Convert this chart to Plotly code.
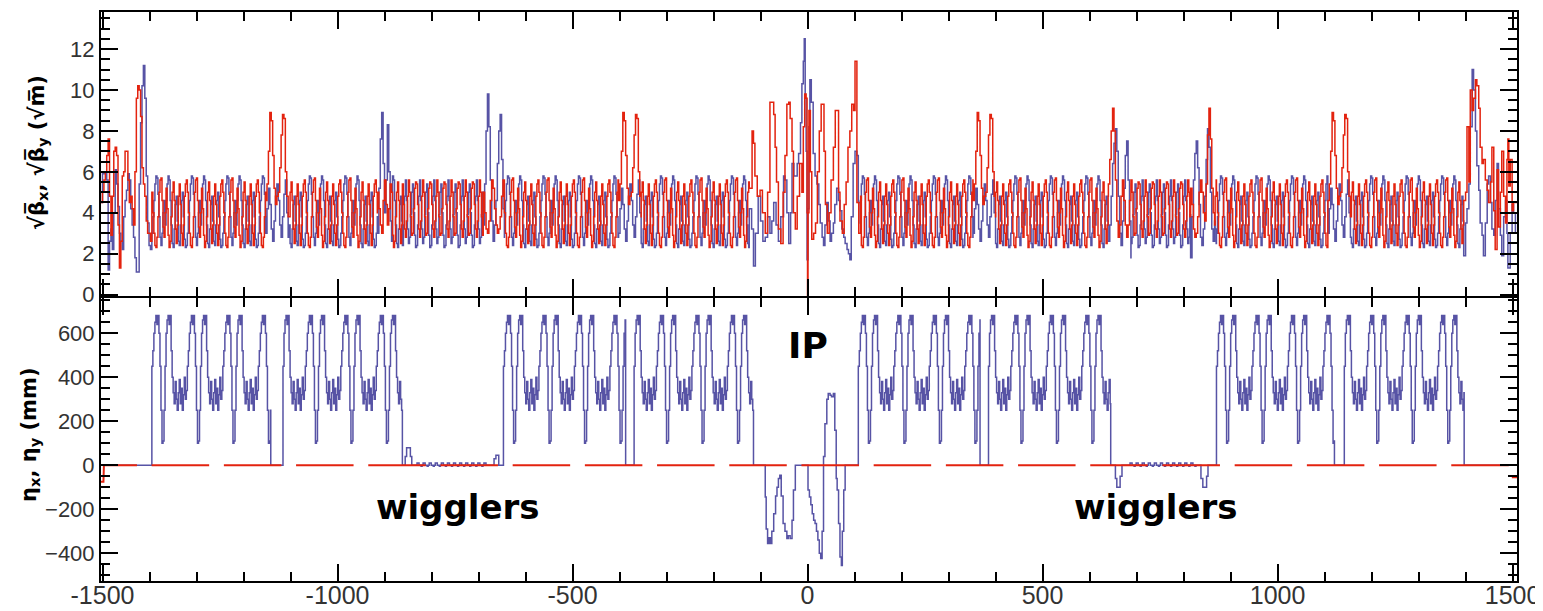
import plotly.graph_objects as go

# ---------------- values ----------------
# one arc super-period (m) and its evenly spaced samples
CELL_LEN = 75.5
CELL_ETA = [450, 520, 600, 650, 680, 640, 680, 600, 450, 250, 100, 110, 250, 450, 600,
            660, 680, 640, 680, 520, 400, 330, 280, 380, 300, 250, 330, 390, 280, 350,
            250, 320, 400, 300, 340]
CELL_BX = [3.0, 3.8, 4.6, 5.4, 5.8, 5.7, 4.9, 3.8, 2.8, 2.4, 3.0, 4.0, 4.6, 3.4, 4.6,
           5.4, 5.8, 5.6, 4.6, 3.4, 2.5, 2.3, 3.2, 4.4, 4.8, 3.6, 2.6, 2.4, 3.4, 4.6,
           5.0, 3.8, 2.7, 2.3, 2.4]
CELL_BY = [5.0, 4.0, 3.0, 2.4, 2.3, 2.8, 3.8, 5.0, 5.6, 5.7, 4.6, 3.3, 2.8, 4.0, 5.2,
           4.2, 2.9, 2.3, 2.6, 3.8, 5.0, 5.5, 4.6, 3.2, 2.5, 3.4, 4.8, 5.4, 4.4, 3.0,
           2.4, 3.4, 4.8, 5.4, 5.6]

# arc sections (m) and where in the super-period each one starts
ARC_START = [-1395, -1116, -647, -369, 108, 385, 870, 1142]
ARC_END = [-1142, -862, -387, -115, 367, 645, 1121, 1397]
ARC_PHASE = [0, 13, 0, 13, 0, 13, 0, 13]

# wiggler sections
WIG_START = [-862, 645]
WIG_END = [-647, 870]
WIG_BX = [2.4, 3.4, 4.8, 5.6, 4.6, 3.2, 2.5, 2.8, 3.9, 5.0, 5.4, 4.0, 2.9, 2.3]
WIG_BY = [5.4, 4.4, 3.2, 2.8, 3.6, 4.8, 5.6, 5.0, 3.8, 2.9, 3.0, 4.2, 5.2, 5.5]
SQ_START = [-833, 684]
SQ_END = [-682, 828]
SQUIG_ETA = [0, 10, 10, 0, 0, -5]
WIG_ETA_X = [-862, -856, -853, -848, -845, -842, -835, -680, -670, -667, -663, -660, -657,
             645, 655, 658, 662, 665, 669, 682, 830, 834, 837, 841, 845, 849, 852]
WIG_ETA = [0, 40, 80, 80, 40, 0, 0, 0, 0, 30, 45, 45, 0,
           0, -60, -100, -100, -50, 0, 0, 0, 0, -60, -100, -100, -50, 0]

# zero-dispersion gaps inside the arcs: beta shape around their centres
GAP_CENTER = [-1129, -378, 376, 1131]
GAP_REL = [-24, -21, -18, -15, -12, -9, -6, -3, 0, 3, 6, 9, 12, 15, 18, 21, 24]
GAP_BX = [3.0, 4.2, 5.2, 4.4, 3.2, 2.6, 3.6, 4.8, 5.4, 4.6, 3.4, 2.8, 3.8, 4.9, 5.6, 4.0, 2.8]
GAP_BY = [4.6, 5.4, 7.0, 8.9, 8.5, 6.8, 5.2, 4.4, 4.8, 5.0, 6.2, 7.8, 8.8, 8.6, 6.0, 4.8, 3.8]

# beta peaks next to the wigglers
SPK_A_X = [-915, -912, -909, -906, -903, -900, -897, -894, -891, -888, -885]
SPK_A_BX = [3.0, 5.2, 7.6, 8.9, 6.4, 4.0, 5.6, 8.3, 6.0, 3.6, 2.6]
SPK_A_BY = [5.0, 4.2, 3.4, 3.0, 4.6, 5.6, 4.4, 3.4, 4.2, 5.4, 5.0]
SPK_B_X = [-690, -687, -684, -681, -678, -675, -672, -669, -666, -663, -660, -657, -654, -651, -648, -645]
SPK_B_BX = [3.4, 5.4, 8.0, 9.8, 8.2, 5.6, 3.6, 2.6, 3.4, 4.6, 6.4, 8.0, 8.8, 6.6, 4.2, 2.8]
SPK_B_BY = [5.0, 4.0, 3.2, 3.0, 3.6, 4.6, 5.6, 5.2, 4.2, 3.4, 3.0, 3.2, 3.8, 4.8, 5.6, 5.0]
SPK_C_X = [640, 643, 646, 649, 652, 655, 658, 661, 664, 667, 670, 673, 676, 679, 682, 685, 688]
SPK_C_BX = [2.6, 3.4, 4.8, 6.4, 7.4, 8.1, 7.0, 4.8, 3.0, 2.4, 3.6, 5.2, 6.8, 7.5, 5.6, 3.6, 1.8]
SPK_C_BY = [5.4, 6.6, 8.0, 9.1, 8.0, 5.6, 3.6, 2.8, 3.4, 4.8, 5.6, 4.6, 3.4, 2.8, 3.4, 4.6, 5.4]
SPK_D_X = [815, 818, 821, 824, 827, 830, 833, 836, 839, 842, 845, 848, 851, 854, 857, 860, 863, 866]
SPK_D_BX = [1.8, 3.8, 5.6, 6.9, 7.5, 6.2, 4.4, 2.8, 2.4, 3.2, 4.8, 6.6, 8.1, 7.2, 5.0, 3.2, 2.6, 3.6]
SPK_D_BY = [5.2, 4.4, 3.2, 2.8, 3.0, 3.8, 5.0, 5.6, 5.0, 4.0, 3.6, 5.4, 7.8, 9.1, 7.6, 5.2, 4.0, 3.4]

# interaction region
IR_BX_X = [-124, -119, -115, -111, -105, -100, -95, -90, -85, -80, -76, -72, -67, -62, -57, -51,
           -48, -44, -40, -36, -33, -29, -26, -22, -19, -15, -12, -9, -7, -5, -3, -1, 1, 3, 5,
           8, 12, 16, 20, 24, 27, 31, 34, 37, 41, 44, 48, 51, 55, 58, 62, 66, 69, 73, 77, 80,
           84, 87, 90, 93, 97, 101, 105, 108, 112]
IR_BX = [4.2, 3.2, 1.4, 3.0, 4.8, 3.6, 2.6, 2.8, 3.8, 3.0, 3.6, 4.5, 3.4, 2.6, 3.8, 5.8,
         5.6, 4.0, 2.5, 4.0, 6.4, 5.8, 5.8, 6.4, 6.9, 8.4, 10.3, 11.4, 12.5, 9.6, 7.0, 1.7, 4.2, 8.2, 10.5,
         9.4, 6.9, 5.8, 5.4, 4.4, 3.5, 2.8, 2.4, 3.4, 4.5, 3.6, 2.6, 3.0, 3.5, 4.4, 5.2, 4.6, 4.1, 3.2, 2.8, 2.5,
         2.2, 2.0, 1.7, 3.8, 6.4, 7.0, 6.8, 4.5, 3.5]
IR_BY_X = [-124, -118, -115, -112, -107, -101, -96, -90, -85, -80, -76, -72, -69, -66, -62, -57,
           -52, -48, -44, -40, -37, -33, -30, -26, -22, -17, -12, -9, -6, -3, -1, 0, 1, 3, 6,
           9, 13, 17, 21, 25, 29, 32, 35, 38, 42, 46, 50, 55, 59, 63, 66, 69, 74, 78, 82, 86,
           90, 94, 98, 101, 105, 109, 113]
IR_BY = [5.2, 8.0, 7.4, 5.8, 4.8, 5.1, 4.0, 3.0, 5.0, 9.4, 9.4, 8.8, 7.2, 5.5, 3.2, 2.5,
         5.0, 6.8, 9.3, 9.4, 8.6, 7.0, 4.0, 3.2, 4.8, 6.4, 5.0, 8.2, 9.8, 9.6, 4.0, -0.3, 4.0, 9.0, 6.0,
         2.7, 3.0, 3.5, 6.0, 8.0, 9.3, 9.3, 7.0, 4.4, 3.0, 4.0, 5.6, 7.2, 9.0, 9.0, 5.0, 3.6, 3.0, 4.4, 5.5, 7.2,
         8.0, 9.3, 9.0, 11.4, 4.5, 3.0, 4.8]
IR_ETA_X = [-115, -90, -88, -85, -82, -79, -76, -72, -68, -65, -62, -59, -56, -52, -48, -44,
            -41, -37, -33, -30, -26, 1, 4, 7, 10, 13, 16, 19, 22, 25, 28, 31, 34, 37, 41, 44,
            48, 51, 55, 58, 61, 63, 66, 69, 72, 74, 77, 80]
IR_ETA = [0, -144, -290, -356, -330, -356, -300, -220, -140, -100, -60, -45, -140, -265, -300, -333,
          -320, -333, -250, -113, 0, -113, -144, -180, -220, -250, -265, -300, -340, -400, -424, -300, 40, 189, 300, 326,
          318, 311, 326, 159, -60, -113, -265, -417, -455, -300, -113, 0]

# ring ends (straights around the second IP at +-1500 m)
LEFT_X = [-1503, -1500, -1497, -1494, -1491, -1488, -1485, -1482, -1479, -1476, -1473, -1470,
          -1467, -1464, -1461, -1458, -1455, -1452, -1449, -1446, -1443, -1440, -1437, -1434,
          -1431, -1428, -1425, -1422, -1419, -1416, -1413, -1410, -1407, -1404, -1401, -1398]
LEFT_BX = [4.5, 5.9, 5.9, 5.9, 5.6, 1.2, 2.6, 3.2, 2.2, 4.0, 6.1, 5.4,
           4.3, 3.0, 2.6, 2.2, 3.8, 4.6, 5.1, 5.9, 5.6, 4.2, 3.4, 2.8,
           1.8, 1.1, 1.1, 5.4, 8.4, 10.2, 11.2, 9.6, 5.8, 3.5, 2.4, 2.2]
LEFT_BY = [4.5, 5.0, 5.6, 6.0, 6.8, 7.6, 4.8, 2.9, 4.8, 7.0, 7.2, 6.8,
           3.4, 1.3, 2.6, 5.8, 6.0, 7.0, 7.0, 5.6, 4.5, 4.8, 4.2, 3.4,
           6.0, 9.6, 10.2, 10.0, 8.7, 6.2, 5.4, 4.8, 3.6, 3.0, 3.0, 2.6]
RIGHT_X = [1396, 1400, 1403, 1407, 1410, 1414, 1417, 1421, 1424, 1428, 1431, 1435, 1438, 1442,
           1446, 1449, 1453, 1456, 1460, 1463, 1467, 1470, 1474, 1477, 1481, 1485, 1488, 1490,
           1492, 1495, 1499, 1502, 1506, 1510]
RIGHT_BX = [1.9, 3.5, 4.2, 5.4, 8.2, 11.0, 10.0, 8.0, 6.3, 5.1, 3.5, 2.9, 1.9, 3.5,
            5.4, 5.8, 4.5, 3.2, 2.9, 4.6, 6.4, 4.2, 2.9, 1.9, 3.8, 4.6, 3.0, 1.3,
            1.3, 3.0, 4.4, 4.0, 3.0, 3.0]
RIGHT_BY = [4.6, 5.0, 8.2, 5.5, 10.0, 9.0, 9.6, 10.5, 10.2, 9.1, 7.2, 6.4, 6.6, 5.6,
            5.1, 4.5, 5.5, 7.2, 4.1, 2.2, 6.1, 3.3, 5.0, 7.0, 4.8, 3.5, 6.6, 7.6,
            5.3, 6.6, 4.1, 4.5, 4.5, 4.5]

# vertical dispersion (zero except the very ends)
ETAY_X = [-1503.2, -1498, -1497, 1496, 1497, 1509.4]
ETAY = [-75, -75, 0, 0, -55, -55]

X_TICKS = [-1500, -1000, -500, 0, 500, 1000, 1500]

# ---------------- assemble the curves ----------------
STEP = CELL_LEN / len(CELL_ETA)


def tile(x0, x1, pattern, phase=0):
    xs, ys = [], []
    k = 0
    while x0 + k * STEP < x1 - 1e-6:
        xs.append(x0 + k * STEP)
        ys.append(pattern[(phase + k) % len(pattern)])
        k += 1
    return xs, ys


def put(xs, ys, ox, oy):
    n = min(len(ox), len(oy))
    ox, oy = list(ox[:n]), list(oy[:n])
    lo, hi = min(ox), max(ox)
    pts = [(x, y) for x, y in zip(xs, ys) if x < lo or x > hi] + list(zip(ox, oy))
    pts.sort(key=lambda p: p[0])
    return [p[0] for p in pts], [p[1] for p in pts]


bx_x, bx_y, by_x, by_y = [], [], [], []
eta_x, eta_y = [-1503.2, 1397, 1509.4], [0, 0, 0]
for s, e, ph in zip(ARC_START, ARC_END, ARC_PHASE):
    a, b = tile(s, e, CELL_BX, ph); bx_x += a; bx_y += b
    a, b = tile(s, e, CELL_BY, ph); by_x += a; by_y += b
    a, b = tile(s, e, CELL_ETA, ph); eta_x += a; eta_y += b
for i in (0, 2, 4, 6):
    eta_x.append(ARC_END[i]); eta_y.append(0)
for s, e in zip(WIG_START, WIG_END):
    a, b = tile(s, e, WIG_BX); bx_x += a; bx_y += b
    a, b = tile(s, e, WIG_BY); by_x += a; by_y += b
for s, e in zip(SQ_START, SQ_END):
    a, b = tile(s, e, SQUIG_ETA); eta_x += a; eta_y += b
eta_x += WIG_ETA_X; eta_y += WIG_ETA
eta_x += IR_ETA_X; eta_y += IR_ETA
pts = sorted(zip(eta_x, eta_y), key=lambda p: p[0])
eta_x, eta_y = [p[0] for p in pts], [p[1] for p in pts]

for c in GAP_CENTER:
    gx = [c + r for r in GAP_REL]
    bx_x, bx_y = put(bx_x, bx_y, gx, GAP_BX)
    by_x, by_y = put(by_x, by_y, gx, GAP_BY)
for sx, sb, sr in [(SPK_A_X, SPK_A_BX, SPK_A_BY), (SPK_B_X, SPK_B_BX, SPK_B_BY),
                   (SPK_C_X, SPK_C_BX, SPK_C_BY), (SPK_D_X, SPK_D_BX, SPK_D_BY),
                   (LEFT_X, LEFT_BX, LEFT_BY), (RIGHT_X, RIGHT_BX, RIGHT_BY)]:
    bx_x, bx_y = put(bx_x, bx_y, sx, sb)
    by_x, by_y = put(by_x, by_y, sx, sr)
bx_x, bx_y = put(bx_x, bx_y, IR_BX_X, IR_BX)
by_x, by_y = put(by_x, by_y, IR_BY_X, IR_BY)

# ---------------- figure ----------------
BLUE = '#5753a5'
RED = '#e3230f'
XR = [-1503.2, 1509.4]
PLOT_H = 569

fig = go.Figure()
fig.add_trace(go.Scatter(x=bx_x, y=bx_y, mode='lines', line=dict(color=BLUE, width=1.5, shape='hv'),
                         xaxis='x', yaxis='y', showlegend=False))
fig.add_trace(go.Scatter(x=by_x, y=by_y, mode='lines', line=dict(color=RED, width=1.5, shape='hv'),
                         xaxis='x', yaxis='y', showlegend=False))
fig.add_trace(go.Scatter(x=eta_x, y=eta_y, mode='lines', line=dict(color=BLUE, width=1.5, shape='hv'),
                         xaxis='x2', yaxis='y2', showlegend=False))
fig.add_trace(go.Scatter(x=ETAY_X, y=ETAY, mode='lines',
                         line=dict(color=RED, width=2, dash='52px,14.7px,5.5px,0px'),
                         xaxis='x2', yaxis='y2', showlegend=False))

tickfont = dict(family='Liberation Sans, Arial, sans-serif', size=25, color='#333')
common_x = dict(range=XR, showgrid=False, zeroline=False, showline=True, linewidth=2, linecolor='black',
                mirror='ticks', ticks='inside', ticklen=17, tickwidth=2, tickcolor='black',
                tickvals=X_TICKS, ticktext=[str(v) for v in X_TICKS], automargin=False,
                minor=dict(ticks='inside', ticklen=9, tickwidth=2, tickcolor='black', dtick=100, tick0=0))
common_y = dict(showgrid=False, zeroline=False, showline=True, linewidth=2, linecolor='black',
                mirror='ticks', ticks='inside', ticklen=17, tickwidth=2, tickcolor='black', automargin=False,
                tickfont=dict(family='Liberation Sans, Arial, sans-serif', size=22, color='#333'))

# the page places the figure 8 px from the top-left corner
fig.update_layout(
    width=1535, height=603,
    margin=dict(l=93, r=26, t=4, b=30),
    paper_bgcolor='white', plot_bgcolor='white',
    xaxis=dict(anchor='y', showticklabels=False, **common_x),
    xaxis2=dict(anchor='y2', matches='x', showticklabels=True, tickfont=tickfont,
                ticklabelstandoff=-9, **common_x),
    yaxis=dict(domain=[285 / PLOT_H, 1], range=[-0.07, 13.81], tick0=0, dtick=2,
               minor=dict(ticks='inside', ticklen=9, tickwidth=2, tickcolor='black', dtick=0.5, tick0=0),
               **common_y),
    yaxis2=dict(domain=[0, 283 / PLOT_H], range=[-526, 760], tick0=0, dtick=200,
                minor=dict(ticks='inside', ticklen=9, tickwidth=2, tickcolor='black', dtick=50, tick0=0),
                **common_y),
)

title_font = dict(family='DejaVu Sans, sans-serif', size=21, color='black')
fig.add_annotation(xref='paper', yref='paper', x=-0.0445, y=0.754, textangle=-90, showarrow=False,
                   text="<b>√β\u0305<sub>x</sub>, √β\u0305<sub>y</sub> (√m\u0305)</b>",
                   font=title_font, xanchor='center', yanchor='middle')
fig.add_annotation(xref='paper', yref='paper', x=-0.0501, y=0.2566, textangle=-90, showarrow=False,
                   text="<b>η<sub>x</sub>, η<sub>y</sub> (mm)</b>",
                   font=title_font, xanchor='center', yanchor='middle')

label_font = dict(family='DejaVu Sans, sans-serif', size=34, color='black')
fig.add_annotation(xref='x2', yref='y2', x=0, y=543, text='<b>IP</b>', showarrow=False,
                   font=dict(family='DejaVu Sans, sans-serif', size=36, color='black'))
fig.add_annotation(xref='x2', yref='y2', x=-744, y=-190, text='<b>wigglers</b>', showarrow=False, font=label_font)
fig.add_annotation(xref='x2', yref='y2', x=740, y=-190, text='<b>wigglers</b>', showarrow=False, font=label_font)

fig.write_html('out.html')
